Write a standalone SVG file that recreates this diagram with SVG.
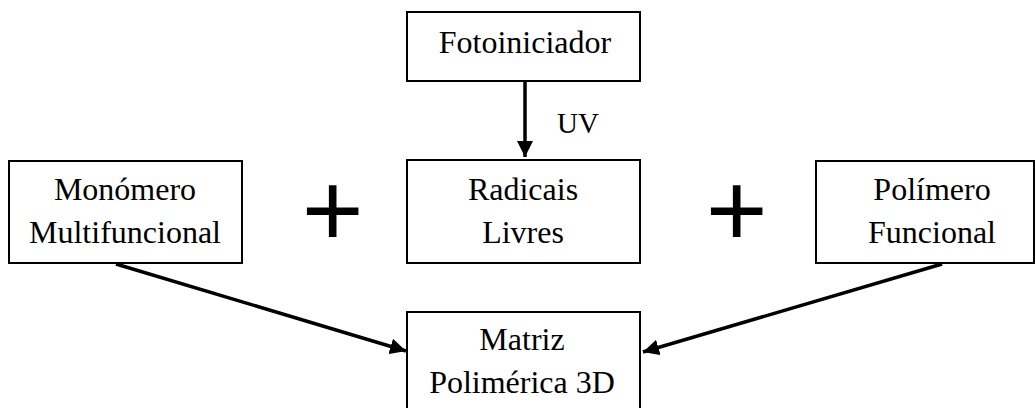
<svg xmlns="http://www.w3.org/2000/svg" width="1036" height="408" viewBox="0 0 1036 408">
<style>
.box{fill:#fff;stroke:#000;stroke-width:2}
.t{font-family:"Liberation Serif","Times New Roman",serif;font-size:32px;fill:#000;text-anchor:middle}
.uv{font-family:"Liberation Serif","Times New Roman",serif;font-size:29px;fill:#000}
.plus{font-family:"Liberation Sans",Arial,sans-serif;font-size:106px;fill:#000;text-anchor:middle}
.c{fill:none;stroke:#000;stroke-width:3.5}
</style>
<defs>
<marker id="ah" markerUnits="userSpaceOnUse" markerWidth="18" markerHeight="16" refX="16" refY="8" orient="auto">
<path d="M0,0 L16,8 L0,16 Z" fill="#000"/>
</marker>
</defs>
<rect width="1036" height="408" fill="#fff"/>
<g id="fotoiniciador">
<rect class="box" x="407" y="12" width="233" height="69"/>
<text class="t" x="525" y="53">Fotoiniciador</text>
</g>
<g id="monomero">
<rect class="box" x="9" y="161" width="233" height="102"/>
<text class="t" x="125" y="200">Monómero</text>
<text class="t" x="125" y="242.5">Multifuncional</text>
</g>
<g id="radicais">
<rect class="box" x="407" y="160" width="233" height="103"/>
<text class="t" x="523" y="200">Radicais</text>
<text class="t" x="523" y="242.5">Livres</text>
</g>
<g id="polimero">
<rect class="box" x="816" y="161" width="218" height="102"/>
<text class="t" x="932" y="200">Polímero</text>
<text class="t" x="932" y="242.5">Funcional</text>
</g>
<g id="matriz">
<rect class="box" x="407" y="312" width="233" height="110"/>
<text class="t" x="522" y="350">Matriz</text>
<text class="t" x="522" y="393">Polimérica 3D</text>
</g>
<g id="plus-signs">
<text class="plus" x="332.7" y="246">+</text>
<text class="plus" x="736.7" y="246">+</text>
</g>
<g id="connectors">
<line class="c" x1="525" y1="81" x2="525" y2="157" marker-end="url(#ah)"/>
<text class="uv" x="557" y="133">UV</text>
<line class="c" x1="116" y1="264" x2="406" y2="351" marker-end="url(#ah)"/>
<line class="c" x1="942" y1="264" x2="643" y2="352" marker-end="url(#ah)"/>
</g>
</svg>
